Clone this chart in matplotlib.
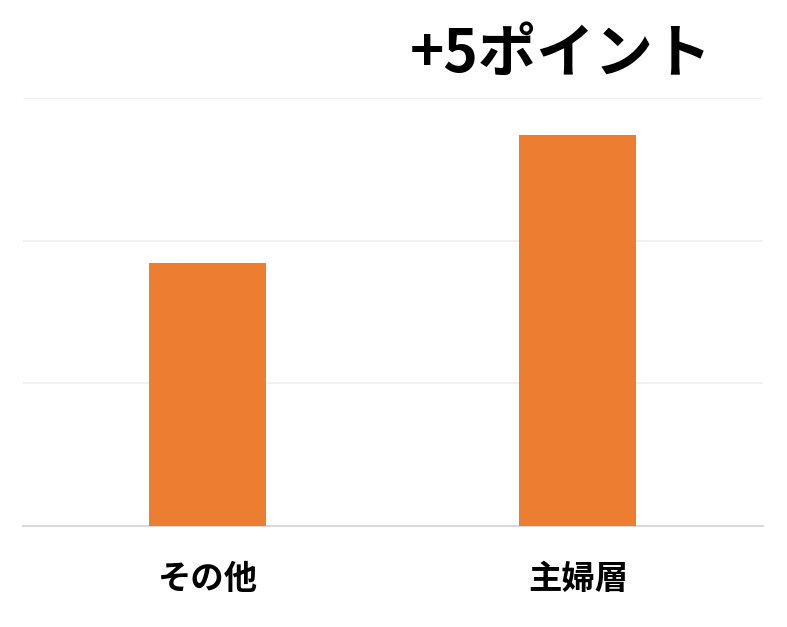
import matplotlib
matplotlib.use("Agg")
import matplotlib.pyplot as plt

plt.rcParams["font.family"] = ["Noto Sans CJK JP", "DejaVu Sans"]

categories = ["その他", "主婦層"]
values = [9.2, 13.7]
yticks = [0, 5, 10, 15]
title = "+5ポイント"

fig = plt.figure(figsize=(7.87, 6.27), dpi=100)
ax = fig.add_axes([0.029, 0.161, 0.9405, 0.683])

x = range(len(categories))
ax.bar(x, values, width=0.316, color="#ED7D31", linewidth=0, zorder=3)

ax.set_xlim(-0.5, 1.5)
ax.set_ylim(0, 15)
ax.set_yticks(yticks)
ax.yaxis.grid(True, color="#efefef", linewidth=1.2, zorder=0)
ax.tick_params(axis="y", left=False, labelleft=False)
ax.tick_params(axis="x", bottom=False, pad=23)
ax.set_xticks(list(x))
ax.set_xticklabels(categories, fontsize=24, fontweight="bold")

for side in ["top", "right", "left"]:
    ax.spines[side].set_visible(False)
ax.spines["bottom"].set_color("#d9d9d9")
ax.spines["bottom"].set_linewidth(1.5)

fig.text(0.713, 0.913, title, ha="center", va="center", fontsize=42, fontweight="bold")

fig.savefig("out.png", dpi=100, facecolor="white")
